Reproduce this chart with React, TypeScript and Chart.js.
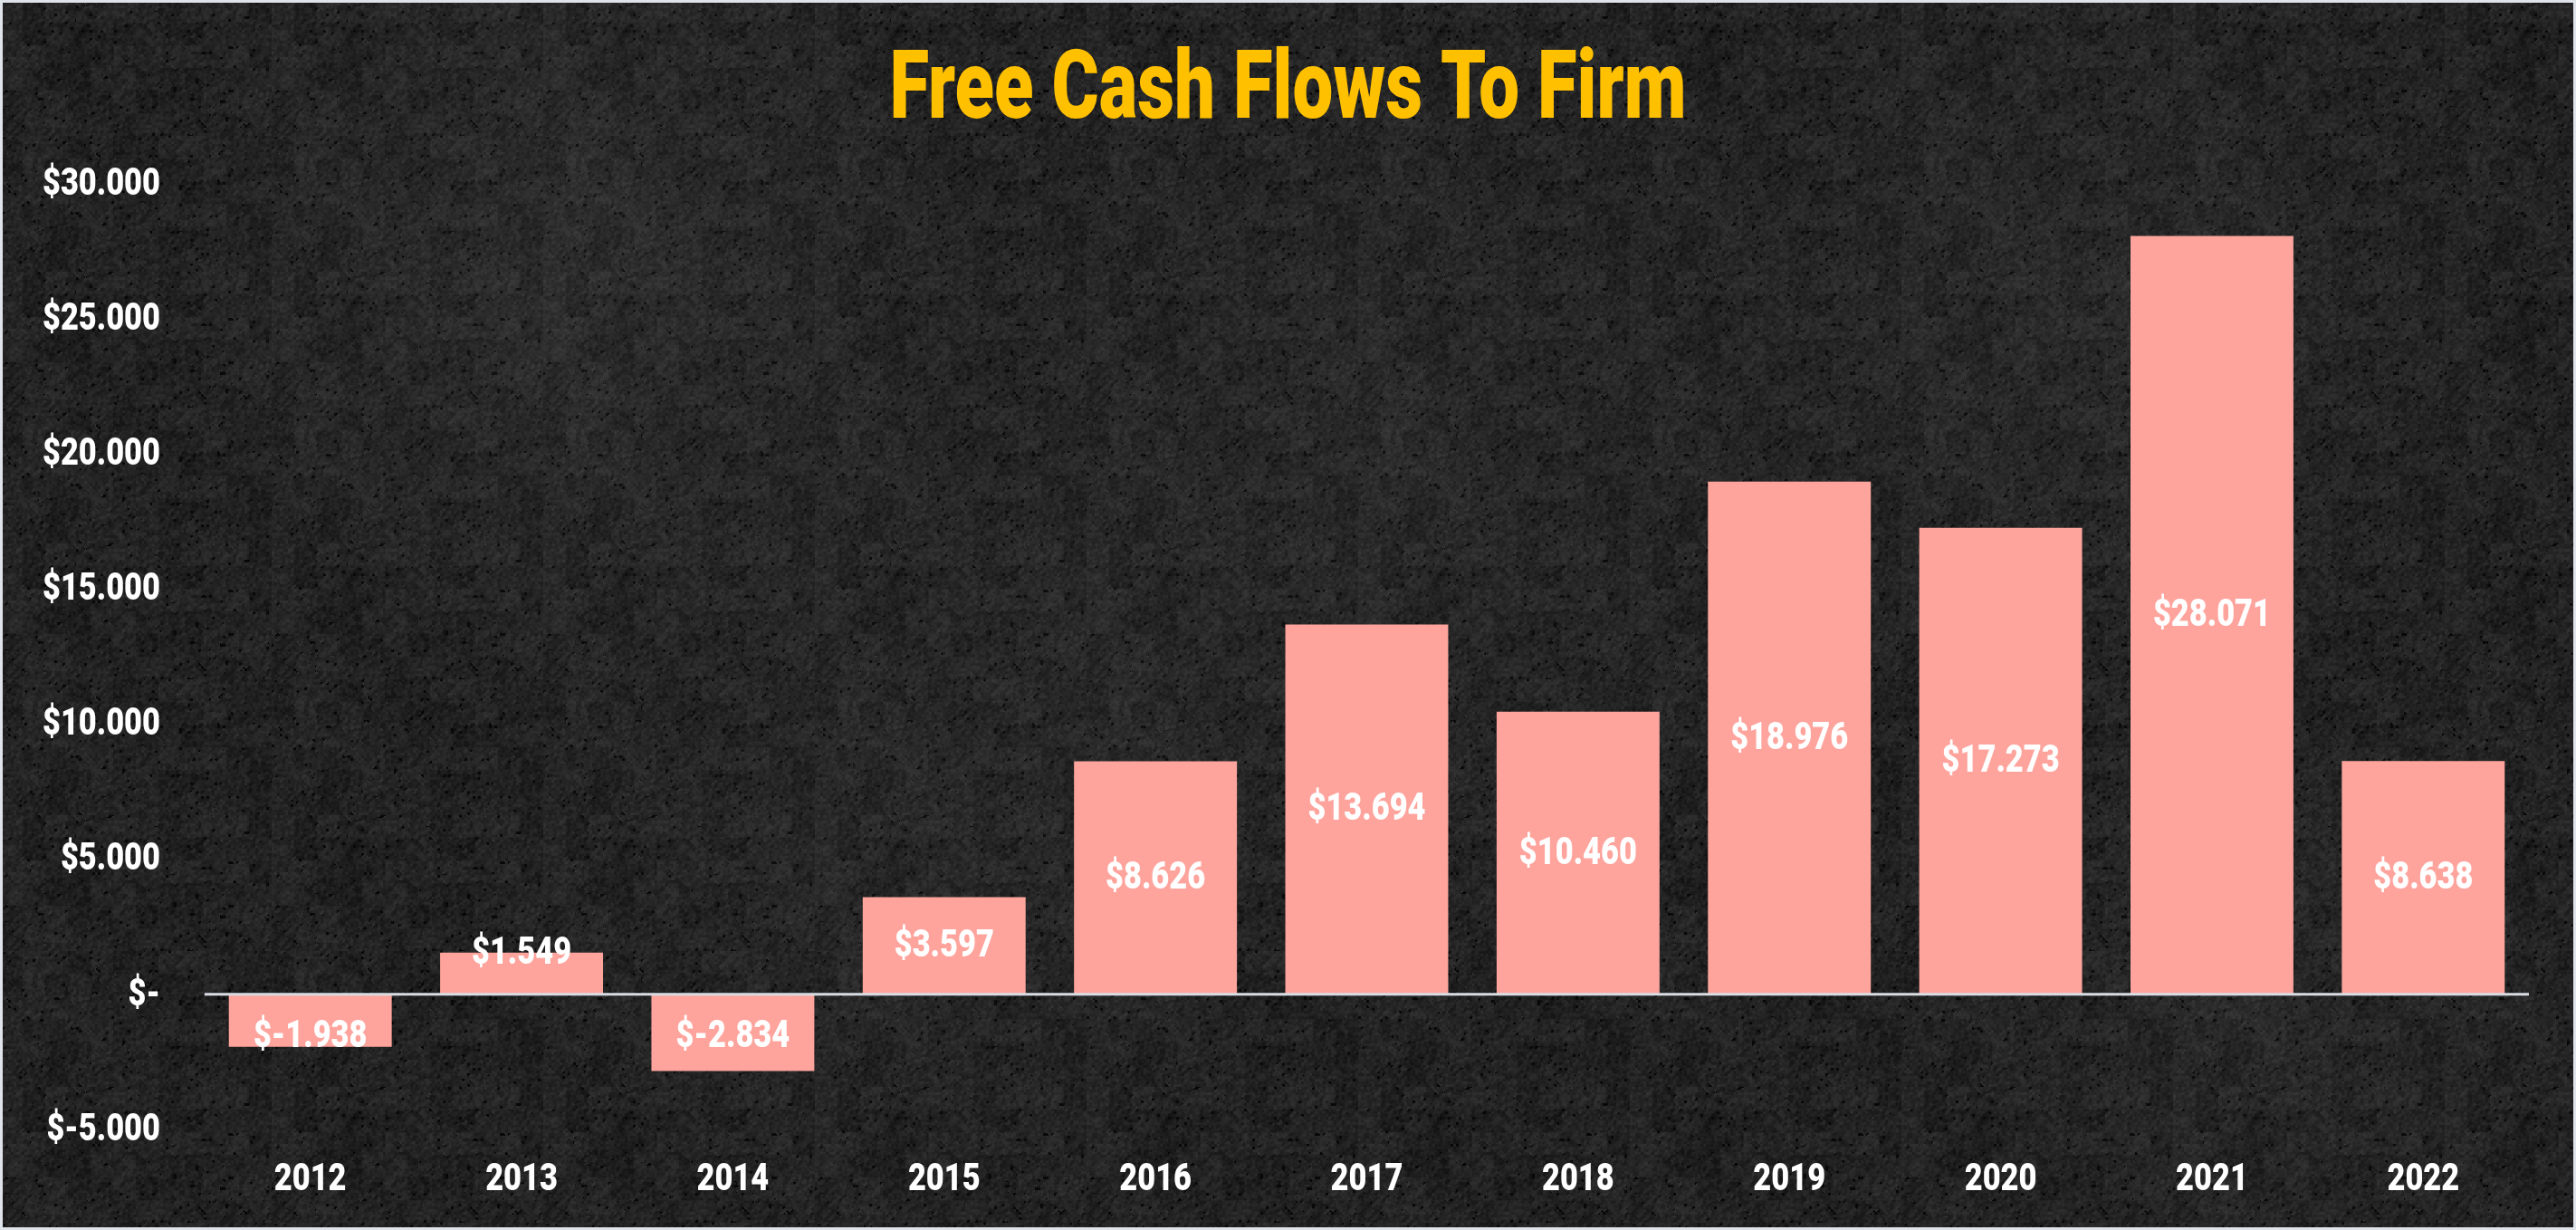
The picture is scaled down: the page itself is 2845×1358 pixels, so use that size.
import React, { useEffect, useRef } from "react";
import { Chart, registerables } from "chart.js";

Chart.register(...registerables);

// ---- data ----
const years = ["2012", "2013", "2014", "2015", "2016", "2017", "2018", "2019", "2020", "2021", "2022"];
const fcff = [-1938, 1549, -2834, 3597, 8626, 13694, 10460, 18976, 17273, 28071, 8638];
const yMin = -5000;
const yMax = 30000;
const yStep = 5000;
const chartTitle = "Free Cash Flows To Firm";

// ---- style ----
const W = 2845;
const H = 1358;
const FONT = "Roboto, 'Noto Sans', 'DejaVu Sans', sans-serif";
const BAR_COLOR = "rgb(254,164,157)";
const TITLE_COLOR = "#FFC000";
const TEXT_SIZE = 43;
const TEXT_SX = 0.8;

function money(v: number): string {
  if (v === 0) return "$-";
  const s = String(Math.abs(v)).replace(/\B(?=(\d{3})+(?!\d))/g, ".");
  return "$" + (v < 0 ? "-" : "") + s;
}

function hash(x: number, y: number): number {
  let h = (x * 374761393 + y * 668265263) | 0;
  h = ((h ^ (h >>> 13)) * 1274126177) | 0;
  h = h ^ (h >>> 16);
  return ((h >>> 0) % 1000) / 1000;
}

function makeTexture(): HTMLCanvasElement {
  const c = document.createElement("canvas");
  const s = 300;
  c.width = s;
  c.height = s;
  const g = c.getContext("2d")!;
  const img = g.createImageData(s, s);
  for (let y = 0; y < s; y++) {
    for (let x = 0; x < s; x++) {
      const a = hash(Math.floor(x / 3), Math.floor(y / 3));
      const b = hash(Math.floor((x + y) / 5), Math.floor((x - y + 1000) / 9));
      const c2 = hash(Math.floor(x / 25) + 77, Math.floor(y / 25) + 91);
      let v = 16 + a * 14 + b * 12 + c2 * 10;
      if (a > 0.94 && b < 0.4) v = 8;
      const i = (y * s + x) * 4;
      img.data[i] = v;
      img.data[i + 1] = v;
      img.data[i + 2] = v;
      img.data[i + 3] = 255;
    }
  }
  g.putImageData(img, 0, 0);
  return c;
}

function squeezedText(ctx: any, text: string, x: number, y: number, sx: number) {
  ctx.save();
  ctx.translate(x, y);
  ctx.scale(sx, 1);
  ctx.fillText(text, 0, 0);
  ctx.restore();
}

const bgPlugin = {
  id: "bg",
  beforeDraw(chart: any) {
    const ctx = chart.ctx;
    ctx.save();
    ctx.fillStyle = "#1d1d1d";
    ctx.fillRect(0, 0, chart.width, chart.height);
    const pat = ctx.createPattern(makeTexture(), "repeat");
    if (pat) {
      ctx.fillStyle = pat;
      ctx.fillRect(0, 0, chart.width, chart.height);
    }
    const blobs = [
      [650, 300, 500, 0.05],
      [1500, 500, 600, 0.035],
      [2300, 350, 500, 0.04],
      [1000, 900, 500, 0.03],
      [2500, 1100, 400, 0.03],
    ];
    for (const [x, y, r, a] of blobs) {
      const gr = ctx.createRadialGradient(x, y, 0, x, y, r);
      gr.addColorStop(0, `rgba(255,255,255,${a})`);
      gr.addColorStop(1, "rgba(255,255,255,0)");
      ctx.fillStyle = gr;
      ctx.fillRect(0, 0, chart.width, chart.height);
    }
    ctx.restore();
  },
  afterDraw(chart: any) {
    const ctx = chart.ctx;
    ctx.save();
    ctx.strokeStyle = "#dfe4ea";
    ctx.lineWidth = 3;
    ctx.strokeRect(1.5, 1.5, chart.width - 3, chart.height - 3);
    ctx.restore();
  },
};

const textPlugin = {
  id: "texts",
  afterDatasetsDraw(chart: any) {
    const ctx = chart.ctx;
    const ys = chart.scales.y;
    const xs = chart.scales.x;
    const area = chart.chartArea;
    const y0 = ys.getPixelForValue(0);
    ctx.save();
    // zero line
    ctx.strokeStyle = "#d9dde3";
    ctx.lineWidth = 3;
    ctx.beginPath();
    ctx.moveTo(area.left, y0);
    ctx.lineTo(area.right, y0);
    ctx.stroke();

    // title
    ctx.fillStyle = TITLE_COLOR;
    ctx.font = `900 105px ${FONT}`;
    ctx.textAlign = "center";
    ctx.textBaseline = "alphabetic";
    const tw = ctx.measureText(chartTitle).width;
    squeezedText(ctx, chartTitle, chart.width / 2, 130, 880 / tw);

    ctx.fillStyle = "#ffffff";
    ctx.font = `900 ${TEXT_SIZE}px ${FONT}`;
    ctx.textBaseline = "middle";

    // y tick labels
    ctx.textAlign = "right";
    ys.ticks.forEach((t: any) => {
      squeezedText(ctx, money(t.value), area.left - 49, ys.getPixelForValue(t.value) + 1, TEXT_SX);
    });

    // x tick labels
    ctx.textAlign = "center";
    years.forEach((lab, i) => {
      squeezedText(ctx, lab, xs.getPixelForTick(i), area.bottom + 56, TEXT_SX);
    });

    // value labels
    const meta = chart.getDatasetMeta(0);
    meta.data.forEach((bar: any, i: number) => {
      const v = fcff[i];
      const h = Math.abs(bar.base - bar.y);
      const off = Math.max(h / 2, 46);
      const ly = v >= 0 ? bar.base - off : bar.base + off;
      squeezedText(ctx, money(v), bar.x, ly + 1, TEXT_SX);
    });
    ctx.restore();
  },
};

export default function App() {
  const ref = useRef<HTMLCanvasElement | null>(null);

  useEffect(() => {
    document.body.style.margin = "0";
    const canvas = ref.current!;
    const chart = new Chart(canvas, {
      type: "bar",
      data: {
        labels: years,
        datasets: [
          {
            label: chartTitle,
            data: fcff,
            backgroundColor: BAR_COLOR,
            borderWidth: 0,
            categoryPercentage: 1,
            barPercentage: 0.771,
          },
        ],
      },
      options: {
        responsive: false,
        animation: false,
        devicePixelRatio: 1,
        layout: { padding: { left: 0, right: 52, top: 203, bottom: 0 } },
        plugins: {
          legend: { display: false },
          tooltip: { enabled: false },
          title: { display: false },
        },
        scales: {
          x: {
            grid: { display: false },
            border: { display: false },
            ticks: { display: false },
            afterFit(scale: any) {
              scale.height = 111;
            },
          },
          y: {
            min: yMin,
            max: yMax,
            grid: { display: false },
            border: { display: false },
            ticks: { display: false, stepSize: yStep },
            afterFit(scale: any) {
              scale.width = 226;
            },
          },
        },
      },
      plugins: [bgPlugin, textPlugin],
    });
    return () => chart.destroy();
  }, []);

  return (
    <div style={{ position: "fixed", left: 0, top: 0, width: W, height: H }}>
      <canvas ref={ref} width={W} height={H} style={{ width: W, height: H, display: "block" }} />
    </div>
  );
}
